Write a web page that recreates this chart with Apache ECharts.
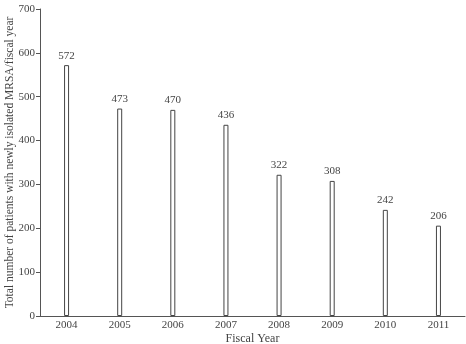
<!DOCTYPE html>
<html><head><meta charset="utf-8">
<script src="https://cdn.jsdelivr.net/npm/echarts@6/dist/echarts.min.js"></script>
<style>html,body{margin:0;padding:0;background:#fff}#c{width:466px;height:344px}</style>
</head><body><div id="c"></div>
<script>
var categories = ['2004','2005','2006','2007','2008','2009','2010','2011'];
var values = [572, 473, 470, 436, 322, 308, 242, 206];
var yTicks = [0,100,200,300,400,500,600,700];
var font = '"Liberation Serif", "DejaVu Serif", serif';
var chart = echarts.init(document.getElementById('c'));
chart.setOption({
  animation:false,
  grid:{left:40, right:1, top:9, bottom:28, containLabel:false, outerBoundsMode:'none'},
  xAxis:{type:'category', data:categories,
    name:'Fiscal Year', nameLocation:'middle', nameGap:17, nameMoveOverlap:false,
    nameTextStyle:{fontFamily:font, fontSize:12, color:'#444'},
    axisLine:{lineStyle:{color:'#555', width:1}},
    axisTick:{show:false},
    axisLabel:{fontFamily:font, fontSize:11, color:'#444', margin:4}},
  yAxis:{type:'value', min:yTicks[0], max:yTicks[yTicks.length-1], interval:100,
    name:'Total number of patients with newly isolated MRSA/fiscal year',
    nameLocation:'middle', nameGap:24, nameMoveOverlap:false,
    nameTextStyle:{fontFamily:font, fontSize:11.5, color:'#444'},
    axisLine:{show:true, lineStyle:{color:'#555', width:1}},
    axisTick:{show:true, length:4, lineStyle:{color:'#555'}},
    splitLine:{show:false},
    axisLabel:{fontFamily:font, fontSize:11, color:'#444', margin:5}},
  series:[{type:'bar', data:values, barWidth:5,
    itemStyle:{color:'#fff', borderColor:'#444', borderWidth:1},
    label:{show:true, position:'top', distance:4, fontFamily:font, fontSize:11, color:'#444'}}]
});
</script></body></html>
